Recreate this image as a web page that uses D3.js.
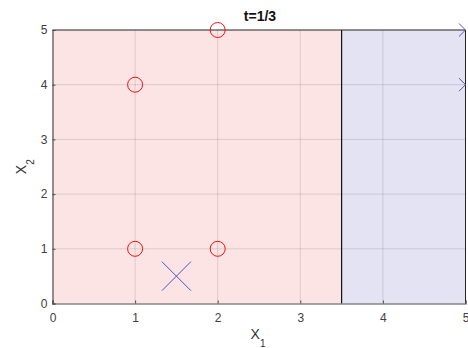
<!DOCTYPE html>
<html>
<head>
<meta charset="utf-8">
<script src="https://cdn.jsdelivr.net/npm/d3@7"></script>
<style>
  body { margin: 0; background: #fff; overflow: hidden; }
  svg { display: block; }
</style>
</head>
<body>
<svg class="chart" width="468" height="348"></svg>
<script>
// data
var title = "t=1/3";
var threshold = 3.5;
var xTicks = [0, 1, 2, 3, 4, 5];
var yTicks = [0, 1, 2, 3, 4, 5];
var circleX = [1, 1, 2, 2];
var circleY = [1, 4, 1, 5];
var crossX = [1.5, 5, 5];
var crossY = [0.5, 5, 4];
var crossWeight = [1, 0.45, 0.45];

var svg = d3.select(".chart");
var plotLeft = 52.5, plotRight = 465.5, plotTop = 30, plotBottom = 303.5;

var x = d3.scaleLinear().domain([0, 5]).range([plotLeft, plotRight]);
var y = d3.scaleLinear().domain([0, 5]).range([plotBottom, plotTop]);
var size = d3.scaleLinear().domain([0, 1]).range([0, 14.5]);

// clip for the cross markers (cut at the right border)
svg.append("clipPath").attr("id", "clipRight")
    .append("rect")
    .attr("x", 0).attr("y", 0)
    .attr("width", x(5)).attr("height", 348);

// decision regions
svg.append("rect")
    .attr("x", x(0)).attr("y", y(5))
    .attr("width", x(threshold) - x(0))
    .attr("height", y(0) - y(5))
    .attr("fill", "#fce4e4");
svg.append("rect")
    .attr("x", x(threshold)).attr("y", y(5))
    .attr("width", x(5) - x(threshold))
    .attr("height", y(0) - y(5))
    .attr("fill", "#e4e3f3");

// grid
svg.selectAll(".gx").data(xTicks.slice(1, -1)).enter()
    .append("line")
    .attr("x1", function (d) { return x(d); })
    .attr("x2", function (d) { return x(d); })
    .attr("y1", y(0)).attr("y2", y(5))
    .attr("stroke", "#000").attr("stroke-opacity", 0.12);
svg.selectAll(".gy").data(yTicks.slice(1, -1)).enter()
    .append("line")
    .attr("y1", function (d) { return y(d); })
    .attr("y2", function (d) { return y(d); })
    .attr("x1", x(0)).attr("x2", x(5))
    .attr("stroke", "#000").attr("stroke-opacity", 0.12);

// boundary
svg.append("line")
    .attr("x1", x(threshold)).attr("x2", x(threshold))
    .attr("y1", y(0)).attr("y2", y(5))
    .attr("stroke", "#111").attr("stroke-width", 1.2);

// box top / right
svg.append("path")
    .attr("d", "M" + x(0) + "," + y(5) + "H" + x(5) + "V" + y(0))
    .attr("fill", "none").attr("stroke", "#222");

// axes
var fmt = d3.format("d");
var xAxis = svg.append("g")
    .attr("transform", "translate(0," + y(0) + ")")
    .call(d3.axisBottom(x).tickValues(xTicks).tickFormat(fmt).tickSize(-3).tickPadding(9.5));
var yAxis = svg.append("g")
    .attr("transform", "translate(" + x(0) + ",0)")
    .call(d3.axisLeft(y).tickValues(yTicks).tickFormat(fmt).tickSize(-3).tickPadding(5));
[xAxis, yAxis].forEach(function (g) {
    g.select(".domain").attr("stroke", "#4d4d4d").attr("stroke-width", 1.2);
    g.selectAll(".tick line").attr("stroke", "#4d4d4d");
    g.selectAll(".tick text")
        .attr("fill", "#404040")
        .attr("font-family", "Liberation Sans, Arial, sans-serif")
        .attr("font-size", "12px");
});

// points
svg.selectAll(".pos").data(circleX).enter()
    .append("circle")
    .attr("cx", function (d) { return x(d); })
    .attr("cy", function (d, i) { return y(circleY[i]); })
    .attr("r", 7.5)
    .attr("fill", "none")
    .attr("stroke", "#f01010");

svg.append("g").attr("clip-path", "url(#clipRight)")
    .selectAll(".neg").data(crossX).enter()
    .append("path")
    .attr("d", function (d, i) {
        var cx = x(d), cy = y(crossY[i]), s = size(crossWeight[i]);
        return "M" + (cx - s) + "," + (cy - s) + "L" + (cx + s) + "," + (cy + s) +
               "M" + (cx - s) + "," + (cy + s) + "L" + (cx + s) + "," + (cy - s);
    })
    .attr("fill", "none")
    .attr("stroke", "#4a55c0");

// labels
svg.append("text")
    .attr("x", 260)
    .attr("y", 20.5)
    .attr("text-anchor", "middle")
    .attr("font-family", "Liberation Sans, Arial, sans-serif")
    .attr("font-weight", "bold")
    .attr("font-size", "14px")
    .attr("fill", "#111")
    .text(title);

var xl = svg.append("text")
    .attr("x", 258)
    .attr("y", 339.3)
    .attr("text-anchor", "middle")
    .attr("font-family", "Liberation Sans, Arial, sans-serif")
    .attr("font-size", "14px")
    .attr("fill", "#333");
xl.append("tspan").text("X");
xl.append("tspan").attr("dy", 8).attr("font-size", "10px").text("1");

var yl = svg.append("text")
    .attr("transform", "translate(26," + ((y(0) + y(5)) / 2) + ") rotate(-90)")
    .attr("text-anchor", "middle")
    .attr("font-family", "Liberation Sans, Arial, sans-serif")
    .attr("font-size", "14px")
    .attr("fill", "#333");
yl.append("tspan").text("X");
yl.append("tspan").attr("dy", 7.5).attr("font-size", "10px").text("2");
</script>
</body>
</html>
